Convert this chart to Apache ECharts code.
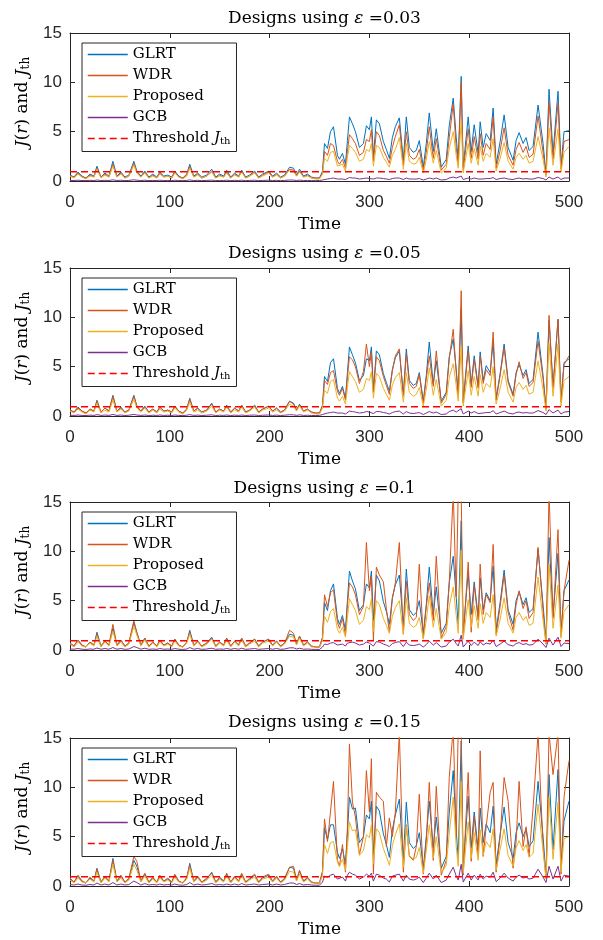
<!DOCTYPE html>
<html><head><meta charset="utf-8">
<script src="https://cdn.jsdelivr.net/npm/echarts@6/dist/echarts.min.js"></script>
<style>html,body{margin:0;padding:0;background:#fff}#c{width:603px;height:940px}</style>
</head><body><div id="c"></div><script>
// ---------- data ----------
const TIME = [
0,4,8,12,16,20,24,27,31,35, 39,43,47,51,55,59,64,67,71,75,
79,83,87,90,94,98,102,105,109,113, 117,120,124,128,132,137,142,146,150,154,
157,161,165,169,172,176,180,185,189,193, 199,203,207,211,215,220,224,227,230,234,
238,242,246,250,
253,255,258,261,264,268,270,273,276,278,
280,283,286,290,294,297,300,302,304,307,
310,314,317,320,323,326,330,334,337,340,
344,347,350,354,357,360,364,367,372,377,
380,384,387,389,392,394,399,402,405,409,
411,414,417,421,424,427,431,435,439,444,
447,450,454,457,460,464,469,474,477,480,
484,489,492,495,500];

const epsilonLabels = ['0.03','0.05','0.1','0.15'];
const thresholds = [0.95,0.95,0.95,0.95];
const xTickValues = [0,100,200,300,400,500];
const yTickValues = [0,5,10,15];
const seriesNames = ['GLRT','WDR','Proposed','GCB'];

// eps = 0.03
const glrt1 = [
0.6,0.4,0.9,0.5,0.3,0.7,0.5,1.5,0.4,0.8, 0.5,2.0,0.5,0.9,0.4,0.6,2.0,1.0,0.5,1.0,
0.4,0.7,0.4,0.9,0.5,0.6,0.4,1.0,0.5,0.3, 0.7,1.7,0.5,0.8,0.4,0.6,1.2,0.4,0.7,0.5,
1.1,0.4,0.8,0.5,1.1,0.4,0.6,1.0,0.4,0.7, 1.0,0.5,0.8,0.4,0.6,1.4,1.3,0.6,1.2,0.5,
0.7,0.4,0.3,0.3,
1.0,3.8,3.3,5.0,5.5,2.6,2.2,2.8,1.7,4.1,
6.5,5.8,5.0,3.4,3.8,5.6,5.2,6.5,2.5,6.2,
5.8,4.0,3.2,2.3,4.4,5.5,6.4,2.1,6.5,3.4,
2.9,3.1,4.1,1.4,3.8,6.9,3.0,5.3,1.4,2.2,
5.6,8.4,4.4,2.1,10.6,1.4,6.5,3.0,5.7,2.8,
6.0,3.4,4.8,4.1,7.4,1.7,4.0,6.7,3.4,2.1,
4.1,4.9,3.8,4.4,3.1,3.5,7.7,3.8,0.7,9.3,
2.8,9.1,1.5,5.0,5.1];
const wdr1 = [
0.5,0.4,0.8,0.4,0.3,0.6,0.4,1.3,0.4,0.7, 0.4,1.7,0.4,0.8,0.3,0.5,1.8,0.9,0.4,0.9,
0.3,0.6,0.3,0.8,0.4,0.5,0.3,0.9,0.4,0.3, 0.6,1.5,0.4,0.7,0.3,0.5,1.0,0.3,0.6,0.4,
0.9,0.3,0.7,0.4,1.0,0.3,0.5,0.9,0.3,0.6, 0.9,0.4,0.7,0.3,0.5,1.2,1.1,0.5,1.0,0.4,
0.6,0.3,0.3,0.3,
0.8,3.0,2.6,3.8,3.6,2.0,1.7,2.2,1.3,3.0,
4.7,4.3,3.8,2.6,2.9,4.2,4.0,5.2,2.0,5.0,
4.6,3.1,2.5,1.8,3.4,4.5,5.7,1.6,5.0,2.6,
2.2,2.4,3.2,1.1,2.9,5.5,2.3,4.3,1.1,1.7,
4.4,7.8,3.4,1.6,10.0,1.1,5.3,2.3,4.5,2.2,
4.8,2.6,3.8,3.2,6.5,1.3,3.1,5.4,2.6,1.6,
3.2,3.9,2.9,3.5,2.4,2.7,6.6,2.9,0.6,8.0,
2.2,7.9,1.2,4.0,4.2];
const prop1 = [
0.5,0.3,0.7,0.4,0.2,0.5,0.4,1.2,0.3,0.6, 0.4,1.5,0.4,0.7,0.3,0.5,1.6,0.8,0.4,0.8,
0.3,0.5,0.3,0.7,0.4,0.5,0.3,0.8,0.4,0.2, 0.5,1.3,0.4,0.6,0.3,0.5,0.9,0.3,0.5,0.4,
0.8,0.3,0.6,0.4,0.9,0.3,0.5,0.8,0.3,0.5, 0.8,0.4,0.6,0.3,0.5,1.1,1.0,0.5,0.9,0.4,
0.5,0.3,0.2,0.2,
0.7,2.3,2.0,2.9,3.0,1.5,1.3,1.7,1.0,2.4,
3.6,3.3,2.9,2.0,2.2,3.2,3.0,3.8,1.5,3.6,
3.4,2.4,1.9,1.4,2.6,3.2,4.4,1.2,3.8,2.0,
1.7,1.8,2.4,0.8,2.2,4.0,1.8,3.1,0.8,1.3,
3.3,5.0,2.6,1.3,6.1,0.8,3.8,1.8,3.3,1.6,
3.5,2.0,2.8,2.4,4.3,1.0,2.3,3.9,2.0,1.2,
2.4,2.8,2.2,2.6,1.8,2.0,4.5,2.2,0.4,5.4,
1.6,5.3,0.9,2.9,3.5];
const gcb1 = [
0.06,0.05,0.08,0.05,0.04,0.07,0.05,0.1,0.05,0.07, 0.05,0.12,0.05,0.08,0.04,0.06,0.12,0.08,0.05,0.08,
0.04,0.06,0.05,0.08,0.05,0.06,0.04,0.08,0.05,0.04, 0.06,0.11,0.05,0.07,0.04,0.06,0.09,0.04,0.06,0.05,
0.08,0.04,0.07,0.05,0.08,0.04,0.06,0.08,0.04,0.06, 0.08,0.05,0.07,0.04,0.06,0.1,0.09,0.05,0.09,0.05,
0.06,0.04,0.04,0.05,
0.1,0.2,0.2,0.25,0.3,0.2,0.15,0.2,0.15,0.25,
0.35,0.3,0.3,0.2,0.25,0.3,0.25,0.35,0.2,0.3,
0.3,0.25,0.2,0.15,0.25,0.3,0.3,0.15,0.3,0.2,
0.2,0.2,0.25,0.1,0.2,0.3,0.2,0.3,0.1,0.15,
0.3,0.4,0.3,0.2,0.5,0.15,0.3,0.2,0.3,0.2,
0.3,0.2,0.25,0.25,0.35,0.15,0.25,0.3,0.2,0.15,
0.25,0.3,0.2,0.25,0.2,0.2,0.35,0.25,0.1,0.4,
0.2,0.4,0.15,0.3,0.3];

// eps = 0.05
const glrt2 = [
0.6,0.4,0.9,0.5,0.3,0.7,0.5,1.6,0.4,0.8, 0.5,2.1,0.5,0.9,0.4,0.6,2.1,1.0,0.5,1.0,
0.4,0.7,0.4,0.9,0.5,0.6,0.4,1.0,0.5,0.3, 0.7,1.8,0.5,0.8,0.4,0.6,1.3,0.4,0.7,0.5,
1.1,0.4,0.8,0.5,1.1,0.4,0.6,1.1,0.4,0.7, 1.0,0.5,0.8,0.4,0.6,1.5,1.3,0.6,1.2,0.5,
0.7,0.4,0.3,0.3,
1.1,4.0,3.5,5.4,5.8,2.8,2.3,3.0,1.8,4.4,
7.0,6.2,5.4,3.6,4.1,5.8,5.6,7.0,2.7,6.6,
6.2,4.3,3.4,2.5,4.7,5.9,6.6,2.2,6.8,3.6,
3.1,3.3,4.4,1.5,4.1,7.5,3.2,5.6,1.5,2.4,
6.0,7.8,4.7,2.3,10.8,1.5,7.1,3.2,6.1,3.0,
6.5,3.6,5.1,4.4,7.5,1.8,4.3,7.3,3.6,2.2,
4.4,5.2,4.1,4.7,3.3,3.7,8.5,4.1,0.8,9.7,
3.0,9.8,1.6,5.4,5.8];
const wdr2 = [
0.6,0.4,0.8,0.5,0.3,0.7,0.5,1.5,0.4,0.8, 0.5,2.0,0.5,0.8,0.4,0.6,2.0,1.0,0.5,0.9,
0.4,0.7,0.4,0.9,0.5,0.6,0.4,1.0,0.5,0.3, 0.7,1.7,0.5,0.8,0.4,0.6,1.2,0.4,0.7,0.5,
1.0,0.4,0.8,0.5,1.1,0.4,0.6,1.0,0.4,0.7, 1.0,0.5,0.8,0.4,0.6,1.5,1.2,0.6,1.1,0.5,
0.7,0.4,0.3,0.3,
1.0,3.6,3.2,4.4,4.6,2.5,2.1,2.8,1.6,4.0,
6.0,5.7,5.0,3.3,4.5,7.3,5.0,6.5,2.4,6.0,
5.6,4.0,3.1,2.2,4.6,6.1,6.8,2.0,6.3,3.3,
2.8,3.0,4.2,1.3,3.8,6.1,3.0,6.6,1.3,2.2,
5.8,8.8,4.4,2.0,12.7,1.3,6.6,2.9,5.7,2.8,
6.1,3.3,4.7,4.1,8.5,1.6,4.1,6.9,3.4,2.0,
4.2,5.5,3.8,4.4,3.0,3.4,7.6,3.8,0.7,10.2,
2.8,9.8,1.4,5.2,6.1];
const prop2 = [
0.5,0.3,0.7,0.4,0.2,0.6,0.4,1.3,0.3,0.6, 0.4,1.6,0.4,0.7,0.3,0.5,1.7,0.8,0.4,0.8,
0.3,0.6,0.3,0.7,0.4,0.5,0.3,0.8,0.4,0.2, 0.6,1.4,0.4,0.6,0.3,0.5,1.0,0.3,0.6,0.4,
0.9,0.3,0.6,0.4,0.9,0.3,0.5,0.9,0.3,0.6, 0.8,0.4,0.6,0.3,0.5,1.2,1.0,0.5,1.0,0.4,
0.6,0.3,0.2,0.2,
0.8,2.6,2.3,3.5,3.7,1.8,1.5,2.0,1.2,2.9,
4.5,4.0,3.5,2.4,2.7,3.8,3.6,4.5,1.8,4.3,
4.0,2.8,2.2,1.6,3.1,3.9,4.4,1.4,4.4,2.4,
2.0,2.2,2.9,1.0,2.7,4.9,2.1,3.7,1.0,1.6,
3.9,5.3,3.1,1.5,7.1,1.0,4.6,2.1,4.0,2.0,
4.2,2.4,3.3,2.9,5.0,1.2,2.8,4.7,2.4,1.4,
2.9,3.4,2.7,3.1,2.2,2.4,5.6,2.7,0.5,7.4,
2.0,7.3,1.0,3.6,4.0];
const gcb2 = [
0.08,0.06,0.1,0.06,0.05,0.09,0.06,0.14,0.06,0.1, 0.06,0.16,0.06,0.1,0.05,0.08,0.16,0.1,0.06,0.1,
0.05,0.08,0.06,0.1,0.06,0.08,0.05,0.1,0.06,0.05, 0.08,0.14,0.06,0.09,0.05,0.08,0.12,0.05,0.08,0.06,
0.1,0.05,0.09,0.06,0.1,0.05,0.08,0.1,0.05,0.08, 0.1,0.06,0.09,0.05,0.08,0.13,0.12,0.06,0.12,0.06,
0.08,0.05,0.05,0.06,
0.15,0.3,0.3,0.35,0.4,0.3,0.2,0.3,0.2,0.35,
0.5,0.45,0.4,0.3,0.35,0.45,0.4,0.5,0.25,0.45,
0.45,0.35,0.3,0.2,0.35,0.45,0.5,0.2,0.45,0.3,
0.25,0.3,0.35,0.15,0.3,0.45,0.3,0.4,0.15,0.2,
0.45,0.6,0.4,0.3,0.75,0.2,0.5,0.3,0.45,0.25,
0.45,0.3,0.35,0.35,0.55,0.2,0.35,0.5,0.3,0.2,
0.35,0.4,0.3,0.35,0.3,0.3,0.55,0.35,0.15,0.65,
0.3,0.6,0.2,0.4,0.45];

// eps = 0.1
const glrt3 = [
0.7,0.4,1.0,0.5,0.3,0.8,0.5,1.8,0.4,0.9, 0.5,2.2,0.5,1.0,0.4,0.7,2.8,1.8,0.5,1.2,
0.4,0.8,0.4,1.0,0.5,0.7,0.4,1.1,0.5,0.3, 0.8,2.0,0.5,0.9,0.4,0.7,1.3,0.4,0.8,0.5,
1.2,0.4,0.9,0.5,1.2,0.4,0.7,1.1,0.4,0.8, 1.1,0.5,0.9,0.4,0.7,1.6,1.5,0.6,1.4,0.5,
0.8,0.4,0.3,0.3,
1.3,4.8,4.0,6.0,6.7,3.2,2.6,3.5,2.0,5.0,
8.0,7.0,6.2,4.0,4.6,6.7,6.3,8.0,3.0,7.6,
7.0,4.9,3.9,2.6,5.3,6.6,7.6,2.5,8.2,4.1,
3.5,3.8,5.0,1.7,4.6,8.4,3.6,6.4,1.7,2.7,
6.8,9.5,5.3,2.6,13.1,1.7,7.9,3.6,6.9,3.4,
7.3,4.1,5.8,5.0,8.5,2.1,4.8,8.1,4.1,2.6,
5.0,5.9,4.6,5.3,3.8,4.2,10.2,4.6,0.9,11.4,
3.4,9.8,1.8,6.0,7.1];
const wdr3 = [
0.7,0.4,1.0,0.5,0.3,0.8,0.5,1.6,0.4,0.9, 0.5,2.6,0.5,1.0,0.4,0.7,3.0,1.7,0.5,1.2,
0.4,0.8,0.4,1.0,0.5,0.7,0.4,1.1,0.5,0.3, 0.8,1.8,0.5,0.9,0.4,0.7,1.2,0.4,0.8,0.5,
1.2,0.4,0.9,0.5,1.2,0.4,0.7,1.1,0.4,0.8, 1.1,0.5,0.9,0.4,0.7,2.0,1.7,0.6,1.4,0.5,
0.8,0.4,0.3,0.3,
1.2,5.6,4.4,5.8,6.1,2.8,2.2,3.2,1.5,4.6,
6.8,6.4,5.6,3.6,4.4,10.9,6.0,7.5,1.0,8.4,
7.6,6.9,4.2,1.8,5.2,6.8,10.9,1.6,7.0,3.6,
3.0,3.3,8.7,1.2,4.4,6.8,3.0,9.5,1.2,2.4,
6.8,16,5.4,16,16,1.2,8.9,1.8,6.6,3.0,
8.7,3.6,5.6,4.8,10.7,1.6,4.4,7.6,3.8,2.0,
4.6,6.0,4.2,5.0,3.2,3.8,10.4,4.0,0.6,16,
3.2,12.2,1.4,6.0,9.1];
const prop3 = [
0.6,0.3,0.8,0.4,0.3,0.7,0.4,1.4,0.3,0.8, 0.4,1.9,0.4,0.8,0.3,0.6,2.4,1.5,0.4,1.0,
0.3,0.7,0.3,0.8,0.4,0.6,0.3,0.9,0.4,0.3, 0.7,1.6,0.4,0.8,0.3,0.6,1.1,0.3,0.7,0.4,
1.0,0.3,0.8,0.4,1.0,0.3,0.6,0.9,0.3,0.7, 0.9,0.4,0.8,0.3,0.6,1.4,1.3,0.5,1.2,0.4,
0.7,0.3,0.3,0.3,
0.9,3.4,2.8,3.9,4.2,2.1,1.7,2.3,1.3,3.3,
5.2,4.6,4.0,2.6,3.0,4.4,4.1,5.2,1.9,5.0,
4.6,3.2,2.5,1.7,3.4,4.3,5.0,1.6,5.3,2.7,
2.3,2.5,3.3,1.1,3.0,5.5,2.3,4.2,1.1,1.8,
4.4,6.4,3.5,1.7,10.1,1.1,5.1,2.3,4.5,2.2,
4.7,2.7,3.8,3.3,5.6,1.4,3.1,5.3,2.7,1.7,
3.3,3.8,3.0,3.4,2.5,2.7,7.4,3.0,0.6,8.7,
2.2,6.6,1.2,3.9,4.6];
const gcb3 = [
0.1,0.08,0.15,0.08,0.06,0.1,0.08,0.2,0.08,0.15, 0.08,0.25,0.08,0.15,0.07,0.1,0.35,0.25,0.08,0.18,
0.07,0.1,0.07,0.15,0.08,0.1,0.07,0.15,0.08,0.06, 0.1,0.25,0.08,0.15,0.07,0.1,0.18,0.07,0.1,0.08,
0.15,0.07,0.15,0.08,0.18,0.07,0.1,0.15,0.07,0.1, 0.15,0.08,0.15,0.07,0.1,0.22,0.22,0.1,0.18,0.08,
0.1,0.07,0.06,0.06,
0.3,0.6,0.55,0.7,0.75,0.5,0.45,0.6,0.4,0.7,
0.9,0.8,0.7,0.5,0.6,0.8,0.7,0.9,0.4,0.85,
0.8,0.6,0.5,0.35,0.65,0.75,0.85,0.35,0.8,0.5,
0.45,0.5,0.6,0.3,0.55,0.9,0.5,0.75,0.3,0.4,
0.8,1.1,0.65,0.4,1.5,0.3,0.9,0.45,0.8,0.45,
0.85,0.5,0.7,0.6,1.0,0.35,0.6,0.9,0.55,0.4,
0.65,0.75,0.55,0.65,0.5,0.55,1.1,0.6,0.25,1.2,
0.5,1.3,0.35,0.7,0.65];

// eps = 0.15
const glrt4 = [
0.7,0.4,1.0,0.5,0.3,0.8,0.5,1.8,0.4,0.9, 0.5,2.8,0.5,1.0,0.4,0.7,2.6,2.0,0.5,1.2,
0.4,0.8,0.4,1.0,0.5,0.7,0.4,1.1,0.5,0.3, 0.8,2.3,0.5,0.9,0.4,0.7,1.4,0.4,0.8,0.5,
1.2,0.4,0.9,0.5,1.2,0.4,0.7,1.1,0.4,0.8, 1.1,0.5,0.9,0.4,0.7,1.9,1.8,0.6,1.5,0.5,
0.8,0.4,0.3,0.3,
1.4,5.9,4.7,6.2,6.2,3.4,2.8,3.8,2.2,5.4,
9.0,7.8,7.9,4.4,5.0,7.2,6.8,8.6,3.2,8.1,
7.6,5.3,4.2,2.9,5.7,7.2,8.8,2.7,8.5,4.4,
3.8,4.1,5.4,1.8,5.0,8.6,3.9,7.0,1.8,3.0,
7.4,11.7,5.6,2.8,14.7,1.8,9.1,3.9,7.5,3.7,
7.9,4.4,6.3,5.4,8.1,2.2,5.2,8.0,4.4,2.8,
5.4,6.4,5.0,5.8,4.0,4.6,10.6,5.0,1.0,11.3,
3.7,11.8,2.0,6.6,8.6];
const wdr4 = [
0.8,0.4,1.1,0.5,0.3,0.9,0.5,1.7,0.4,1.0, 0.5,2.6,0.5,1.1,0.4,0.8,3.0,2.5,0.5,1.3,
0.4,0.9,0.4,1.1,0.5,0.8,0.4,1.2,0.5,0.3, 0.9,2.1,0.5,1.0,0.4,0.8,1.3,0.4,0.9,0.5,
1.3,0.4,1.0,0.5,1.3,0.4,0.8,1.2,0.4,0.9, 1.2,0.5,1.0,0.4,0.8,1.9,2.0,0.6,1.6,0.5,
0.9,0.4,0.3,0.3,
1.5,6.8,4.5,7.5,10.6,2.6,2.0,4.2,1.4,6.0,
14.4,8.5,7.0,3.2,5.0,11.7,7.5,12.9,1.2,9.5,
9.0,8.6,4.0,6.9,5.0,7.5,15.5,1.4,6.2,3.0,
2.6,4.0,9.3,1.2,4.5,10.5,2.6,10.1,1.1,2.6,
11.0,16,5.0,16,16,1.1,11.5,2.5,7.0,3.0,
13.7,3.0,6.0,9.5,10.5,1.4,5.0,11.0,8.6,1.8,
4.5,10.6,4.0,6.0,3.0,7.9,15.5,4.0,0.8,15.5,
11.3,15.5,1.2,9.0,12.7];
const prop4 = [
0.6,0.3,0.8,0.4,0.3,0.7,0.4,1.4,0.3,0.8, 0.4,2.2,0.4,0.8,0.3,0.6,2.2,1.6,0.4,1.0,
0.3,0.7,0.3,0.8,0.4,0.6,0.3,0.9,0.4,0.3, 0.7,1.8,0.4,0.8,0.3,0.6,1.1,0.3,0.7,0.4,
1.0,0.3,0.8,0.4,1.0,0.3,0.6,0.9,0.3,0.7, 0.9,0.4,0.8,0.3,0.6,1.5,1.4,0.5,1.2,0.4,
0.7,0.3,0.3,0.3,
1.0,4.2,3.3,4.4,4.5,2.4,2.0,2.7,1.6,3.9,
6.5,5.6,5.7,3.1,3.6,5.2,4.9,6.2,2.3,5.8,
5.4,3.8,3.0,2.1,4.1,5.2,6.3,1.9,6.1,3.1,
2.7,2.9,3.9,1.3,3.6,6.2,2.8,5.0,1.3,2.1,
5.3,9.0,4.0,2.0,10.6,1.3,6.5,2.8,5.4,2.6,
5.7,3.1,4.5,3.9,5.8,1.6,3.7,5.8,3.1,2.0,
3.9,4.6,3.6,4.2,2.9,3.3,8.3,3.6,0.7,9.0,
2.7,8.5,1.4,4.8,5.0];
const gcb4 = [
0.15,0.1,0.2,0.1,0.08,0.15,0.1,0.3,0.1,0.2, 0.1,0.35,0.1,0.2,0.1,0.15,0.5,0.35,0.1,0.25,
0.1,0.15,0.1,0.2,0.1,0.15,0.1,0.2,0.1,0.08, 0.15,0.35,0.1,0.2,0.1,0.15,0.25,0.1,0.15,0.1,
0.2,0.1,0.2,0.1,0.25,0.1,0.15,0.2,0.1,0.15, 0.2,0.1,0.2,0.1,0.15,0.3,0.3,0.15,0.25,0.1,
0.15,0.1,0.08,0.08,
0.4,1.0,0.9,1.1,1.2,0.7,0.6,0.9,0.5,1.1,
1.4,1.2,1.1,0.7,0.9,1.2,1.0,1.3,0.5,1.2,
1.1,0.8,0.7,0.4,1.0,1.1,1.2,0.5,1.1,0.7,
0.6,0.7,0.9,0.35,0.8,1.3,0.7,1.1,0.35,0.6,
1.2,1.9,1.0,0.6,2.2,0.4,1.3,0.6,1.1,0.6,
1.2,0.7,1.0,0.9,1.4,0.45,0.8,1.3,0.8,0.5,
0.9,1.1,0.8,0.9,0.7,0.8,1.7,0.9,0.35,2.0,
0.7,2.0,0.5,1.1,1.0];

const panels = [
  [glrt1, wdr1, prop1, gcb1],
  [glrt2, wdr2, prop2, gcb2],
  [glrt3, wdr3, prop3, gcb3],
  [glrt4, wdr4, prop4, gcb4]
];
panels.forEach((p,k)=>p.forEach((a,j)=>{ if(a.length!==TIME.length) throw new Error('length mismatch panel '+(k+1)+' series '+j+': '+a.length+' vs '+TIME.length); }));

// ---------- layout / style ----------
const COLORS = ['#0072BD','#D95319','#EDB120','#7E2F8E'];
const GRID_TOPS = [33, 268, 502, 738];
const GRID_H = 148, GRID_L = 70, GRID_W = 499;
const TITLE_TOPS = [5, 240, 475, 709];
const AX = '#262626';
const SERIF = 'DejaVu Serif';
const SANS = 'Liberation Sans';

const grids=[], xAxes=[], yAxes=[], series=[], titles=[], legends=[];
panels.forEach((p,k)=>{
  grids.push({left:GRID_L, width:GRID_W, top:GRID_TOPS[k], height:GRID_H});
  const common = {gridIndex:k, type:'value', splitLine:{show:false},
    axisLine:{show:true, onZero:false, lineStyle:{color:AX, width:1}},
    axisTick:{show:true, inside:true, length:5, lineStyle:{color:AX, width:1}}};
  xAxes.push(Object.assign({}, common, {position:'bottom', min:xTickValues[0], max:xTickValues[xTickValues.length-1], interval:xTickValues[1]-xTickValues[0],
    axisLabel:{margin:13, fontFamily:SANS, fontSize:17, color:AX},
    name:'Time', nameLocation:'middle', nameGap:35,
    nameTextStyle:{fontFamily:SERIF, fontSize:17, color:'#000'}}));
  xAxes.push(Object.assign({}, common, {position:'top', min:xTickValues[0], max:xTickValues[xTickValues.length-1], interval:xTickValues[1]-xTickValues[0],
    axisLabel:{show:false}}));
  yAxes.push(Object.assign({}, common, {position:'left', min:yTickValues[0], max:yTickValues[yTickValues.length-1], interval:yTickValues[1]-yTickValues[0],
    axisLabel:{margin:8, fontFamily:SANS, fontSize:17, color:AX},
    name:'{i|J}({i|r}) and {i|J}{s|th}', nameLocation:'middle', nameGap:30, nameRotate:90,
    nameTextStyle:{fontFamily:SERIF, fontSize:17, color:'#000', padding:[0,0,0,10],
      rich:{i:{fontFamily:SERIF, fontStyle:'italic', fontSize:17, color:'#000'},
            s:{fontFamily:SERIF, fontSize:12, color:'#000', padding:[7,0,0,0]}}}}));
  yAxes.push(Object.assign({}, common, {position:'right', min:yTickValues[0], max:yTickValues[yTickValues.length-1], interval:yTickValues[1]-yTickValues[0],
    axisLabel:{show:false}}));
  p.forEach((arr,j)=>{
    series.push({type:'line', name:seriesNames[j], xAxisIndex:2*k, yAxisIndex:2*k,
      data:TIME.map((t,i)=>[t, arr[i]]), symbol:'none', showSymbol:false, clip:true,
      lineStyle:{color:COLORS[j], width:1}, itemStyle:{color:COLORS[j]}, z:2+j});
  });
  series.push({type:'line', name:'Threshold', xAxisIndex:2*k, yAxisIndex:2*k,
    data:[[xTickValues[0], thresholds[k]],[xTickValues[xTickValues.length-1], thresholds[k]]],
    symbol:'none', showSymbol:false, lineStyle:{color:'#FF0000', width:1.5, type:[7,4]}, itemStyle:{color:'#FF0000'}, z:7});
  titles.push({text:'Designs using {i|ε} =' + epsilonLabels[k], left:GRID_L+GRID_W/2, textAlign:'center', top:TITLE_TOPS[k],
    textStyle:{fontFamily:SERIF, fontSize:17, fontWeight:'normal', color:'#000',
      rich:{i:{fontFamily:SERIF, fontStyle:'italic', fontSize:17, color:'#000'}}}});
  legends.push({orient:'vertical', left:GRID_L+12, top:GRID_TOPS[k]+10,
    data:['GLRT','WDR','Proposed','GCB','Threshold'],
    itemWidth:40, itemHeight:14, itemGap:6,
    itemStyle:{opacity:0},
    lineStyle:{width:1.5},
    backgroundColor:'#fff', borderColor:AX, borderWidth:1, borderRadius:0,
    padding:[4,6,5,5], selectedMode:false,
    formatter:function(n){ return n==='Threshold' ? '{n|Threshold }{i|J}{s|th}' : '{n|'+n+'}'; },
    textStyle:{fontFamily:SERIF, fontSize:15, color:'#000',
      rich:{n:{fontFamily:SERIF, fontSize:15, color:'#000'},
            i:{fontFamily:SERIF, fontStyle:'italic', fontSize:15, color:'#000'},
            s:{fontFamily:SERIF, fontSize:10, color:'#000', padding:[6,0,0,0]}}}});
});

const chart = echarts.init(document.getElementById('c'), null, {renderer:'canvas'});
chart.setOption({animation:false, backgroundColor:'#fff', title:titles, grid:grids, xAxis:xAxes, yAxis:yAxes, legend:legends, series:series});
</script></body></html>
